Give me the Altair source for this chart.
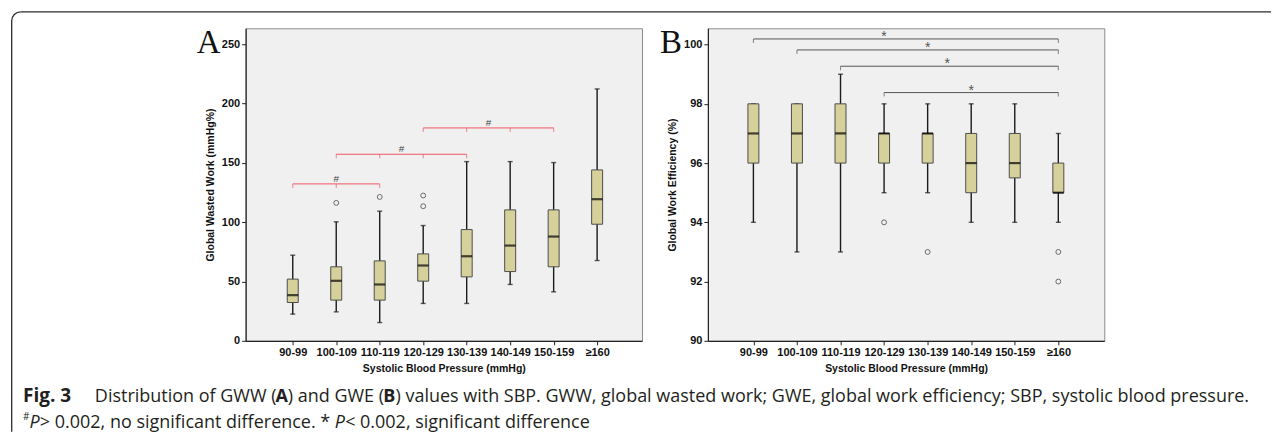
import json
import math
import altair as alt
import pandas as pd

# ---------------- data ----------------
categories = ["90-99", "100-109", "110-119", "120-129", "130-139", "140-149", "150-159", "≥160"]
positions = list(range(len(categories)))

# Panel A: Global Wasted Work (mmHg%)
gww_low = [22.5, 24.4, 15.4, 31.5, 31.5, 47.5, 41.3, 67.7]
gww_q1 = [32.3, 34.3, 34.3, 50.3, 53.9, 58.4, 62.4, 98.3]
gww_med = [38.5, 50.6, 47.5, 63.5, 71.3, 80.3, 87.9, 119.4]
gww_q3 = [52.0, 62.4, 67.4, 73.3, 93.8, 110.4, 110.4, 144.1]
gww_high = [72.2, 100.3, 109.3, 97.2, 151.1, 151.1, 150.3, 212.4]
gww_out_pos = [1, 2, 3, 3]
gww_out_val = [116.3, 121.3, 122.5, 113.5]
gww_br_start = [0, 1, 3]
gww_br_end = [2, 4, 6]
gww_br_level = [132.3, 157.3, 179.5]
gww_br_label_pos = [1.0, 2.5, 4.5]

# Panel B: Global Work Efficiency (%)
gwe_low = [94, 93, 93, 95, 95, 94, 94, 94]
gwe_q1 = [96, 96, 96, 96, 96, 95, 95.5, 95]
gwe_med = [97, 97, 97, 97, 97, 96, 96, 95]
gwe_q3 = [98, 98, 98, 97, 97, 97, 97, 96]
gwe_high = [98, 98, 99, 98, 98, 98, 98, 97]
gwe_out_pos = [3, 4, 7, 7]
gwe_out_val = [94, 93, 93, 92]
gwe_br_start = [0, 1, 2, 3]
gwe_br_end = [7, 7, 7, 7]
gwe_br_level = [100.19, 99.82, 99.27, 98.38]
gwe_br_label_pos = [3.0, 4.0, 4.45, 5.0]

caption_fig = "Fig. 3"
caption_line1 = ["Distribution of GWW (", "A", ") and GWE (", "B",
                 ") values with SBP. GWW, global wasted work; GWE, global work efficiency; SBP, systolic blood pressure."]
caption_line1_bold = [False, True, False, True, False]
caption_line2 = ["#", "P", " > 0.002, no significant difference. *", "P", " < 0.002, significant difference"]
caption_line2_kind = ["sup", "italic", "normal", "italic", "normal"]

# ---------------- styling ----------------
LABEL_FONT = "Liberation Sans Narrow, Arial Narrow, Liberation Sans"
TITLE_FONT = "Liberation Sans, Arial"
CAP_FONT = "Open Sans"
CAP_SIZE = 18
BOX_FILL = "#d6d09b"
W, H = 397, 313
label_expr = json.dumps(categories, ensure_ascii=False) + "[datum.value]"

# approximate Open Sans advance widths (units per em = 2048), used to butt caption pieces together
OS_REG = {' ': 532, 'a': 1139, 'b': 1255, 'c': 975, 'd': 1255, 'e': 1149, 'f': 694, 'g': 1122,
          'h': 1257, 'i': 518, 'k': 1096, 'l': 518, 'm': 1905, 'n': 1257, 'o': 1237, 'p': 1255,
          'r': 836, 's': 977, 't': 723, 'u': 1257, 'v': 1026, 'w': 1593, 'y': 1028, 'A': 1296,
          'B': 1300, 'D': 1466, 'E': 1147, 'G': 1423, 'P': 1198, 'S': 1120, 'W': 1878, '(': 590,
          ')': 590, '.': 545, ',': 500, ';': 545, '0': 1171, '2': 1171, '>': 1171, '<': 1171,
          '*': 1100, '#': 1323}
OS_BOLD = {'A': 1400, 'B': 1400}
OS_ITAL = {'P': 1186}


def tw(s, size, table=OS_REG):
    return sum(table.get(c, OS_REG.get(c, 1100)) for c in s) / 2048.0 * size


def panel(low, q1, med, q3, high, opos, oval, bstart, bend, blevel, blabpos,
          ydomain, yvalues, xdomain, ytitle, letter, br_color, br_label,
          br_label_color, br_label_size, br_label_dy, inner_ticks, extra=None):
    box = pd.DataFrame({"pos": positions, "low": low, "q1": q1, "med": med, "q3": q3, "high": high})
    out = pd.DataFrame({"pos": opos, "val": oval})
    br = pd.DataFrame({"start": bstart, "end": bend, "level": blevel, "lab": blabpos,
                       "txt": [br_label] * len(bstart)})
    tick_rows = []
    for s, e, lv in zip(bstart, bend, blevel):
        pts = range(s, e + 1) if inner_ticks else [s, e]
        for p in pts:
            tick_rows.append({"pos": p, "level": lv})
    brt = pd.DataFrame(tick_rows)

    xs = alt.Scale(domain=xdomain, nice=False, zero=False)
    ys = alt.Scale(domain=ydomain, nice=False, zero=False)
    xax = alt.Axis(values=positions, labelExpr=label_expr, grid=False,
                   title="Systolic Blood Pressure (mmHg)")
    yax = alt.Axis(values=yvalues, grid=False, title=ytitle)

    def X(f):
        return alt.X(f, type="quantitative", scale=xs, axis=xax, title="Systolic Blood Pressure (mmHg)")

    def Y(f):
        return alt.Y(f, type="quantitative", scale=ys, axis=yax, title=ytitle)

    whisk = alt.Chart(box).mark_rule(color="#1a1a1a", strokeWidth=1.4).encode(
        x=X("pos"), y=Y("low"), y2="high")
    cap_lo = alt.Chart(box).mark_tick(orient="horizontal", size=5, thickness=1.4, color="#1a1a1a").encode(
        x=X("pos"), y=Y("low"))
    cap_hi = alt.Chart(box).mark_tick(orient="horizontal", size=5, thickness=1.4, color="#1a1a1a").encode(
        x=X("pos"), y=Y("high"))
    bars = alt.Chart(box).mark_bar(width=11, fill=BOX_FILL, stroke="#4d4d4d", strokeWidth=1).encode(
        x=X("pos"), y=Y("q1"), y2="q3")
    median = alt.Chart(box).mark_tick(orient="horizontal", size=11, thickness=2.2, color="#000000").encode(
        x=X("pos"), y=Y("med"))
    outl = alt.Chart(out).mark_point(shape="circle", filled=False, size=24, color="#333333",
                                      strokeWidth=1).encode(x=X("pos"), y=Y("val"))
    brl = alt.Chart(br).mark_rule(color=br_color, strokeWidth=1).encode(
        x=X("start"), x2="end", y=Y("level"))
    brtk = alt.Chart(brt).mark_tick(orient="vertical", size=4, thickness=1, yOffset=2,
                                     color=br_color).encode(x=X("pos"), y=Y("level"))
    brlab = alt.Chart(br).mark_text(font=TITLE_FONT, fontSize=br_label_size, color=br_label_color,
                                    baseline="alphabetic", dy=br_label_dy).encode(
        x=X("lab"), y=Y("level"), text="txt:N")
    let = alt.Chart(alt.Data(values=[{}])).mark_text(
        font="Liberation Serif", fontSize=33, color="#111111", align="center", baseline="alphabetic").encode(
        x=alt.value(-37), y=alt.value(25), text=alt.value(letter))
    layers = [whisk, cap_lo, cap_hi, bars, median, outl, brl, brtk, brlab, let]
    if extra:
        layers += extra
    return alt.layer(*layers).properties(width=W, height=H)


def txt(s, x, y, size=CAP_SIZE, weight="normal", style="normal"):
    return alt.Chart(alt.Data(values=[{}])).mark_text(
        font=CAP_FONT, fontSize=size, fontWeight=weight, fontStyle=style, color="#231f20",
        align="left", baseline="alphabetic").encode(x=alt.value(x), y=alt.value(y), text=alt.value(s))


OX, OY = 245, 27          # panel A plot origin on the page
FL, FT, R, SW = 10.7, 10.6, 9.0, 1.3   # frame left / top line, corner radius, stroke
FRAME_C = "#2b2b2b"


def blank():
    return alt.Chart(alt.Data(values=[{}]))


frame = [
    blank().mark_rule(color=FRAME_C, strokeWidth=SW).encode(
        x=alt.value(FL + R - OX), x2=alt.value(1272 - OX), y=alt.value(FT - OY)),
    blank().mark_rule(color=FRAME_C, strokeWidth=SW).encode(
        x=alt.value(FL - OX), y=alt.value(FT + R - OY), y2=alt.value(431 - OY)),
    blank().mark_arc(color=FRAME_C, radius=R + SW / 2, radius2=R - SW / 2,
                     theta=1.5 * math.pi, theta2=2 * math.pi).encode(
        x=alt.value(FL + R - OX), y=alt.value(FT + R - OY)),
]

caption = list(frame)
caption.append(txt(caption_fig, 22 - OX, 401 - OY, size=19, weight="bold"))
x = 94
for s, b in zip(caption_line1, caption_line1_bold):
    caption.append(txt(s, x - OX, 401 - OY, weight="bold" if b else "normal"))
    x += tw(s, CAP_SIZE, OS_BOLD if b else OS_REG)
x = 22
for s, k in zip(caption_line2, caption_line2_kind):
    if k == "sup":
        caption.append(txt(s, x - OX, 419 - OY, size=10))
        x += tw(s, 10)
    elif k == "italic":
        caption.append(txt(s, x - OX, 427 - OY, style="italic"))
        x += tw(s, CAP_SIZE, OS_ITAL)
    else:
        caption.append(txt(s, x - OX, 427 - OY))
        x += tw(s, CAP_SIZE)

A = panel(gww_low, gww_q1, gww_med, gww_q3, gww_high, gww_out_pos, gww_out_val,
          gww_br_start, gww_br_end, gww_br_level, gww_br_label_pos,
          [0, 263.5], [0, 50, 100, 150, 200, 250], [-0.969, 7.917],
          "Global Wasted Work (mmHg%)", "A", "#ee5560", "#", "#444444", 10, -2, True, caption)
B = panel(gwe_low, gwe_q1, gwe_med, gwe_q3, gwe_high, gwe_out_pos, gwe_out_val,
          gwe_br_start, gwe_br_end, gwe_br_level, gwe_br_label_pos,
          [90, 100.55], [90, 92, 94, 96, 98, 100], [-0.93, 7.94],
          "Global Work Efficiency (%)", "B", "#555555", "*", "#555555", 14, 2, False)

chart = alt.hconcat(A, B, spacing=66, bounds="flush").properties(
    padding={"left": 2, "top": 2, "right": 0, "bottom": 0},
    background="white",
).configure_view(
    fill="#f0f0f0", stroke="#8c8c8c", strokeWidth=1
).configure_axis(
    domainColor="#222222", domainWidth=1.2, tickColor="#222222", tickSize=4, tickWidth=1,
    labelFont=LABEL_FONT, labelFontSize=11, labelFontWeight="bold", labelColor="#111111",
    labelPadding=2, titleFont=TITLE_FONT, titleFontSize=10.5, titleFontWeight="bold",
    titleColor="#111111", titlePadding=6
)

chart.save("out.html", embed_options={"renderer": "svg", "actions": False})
